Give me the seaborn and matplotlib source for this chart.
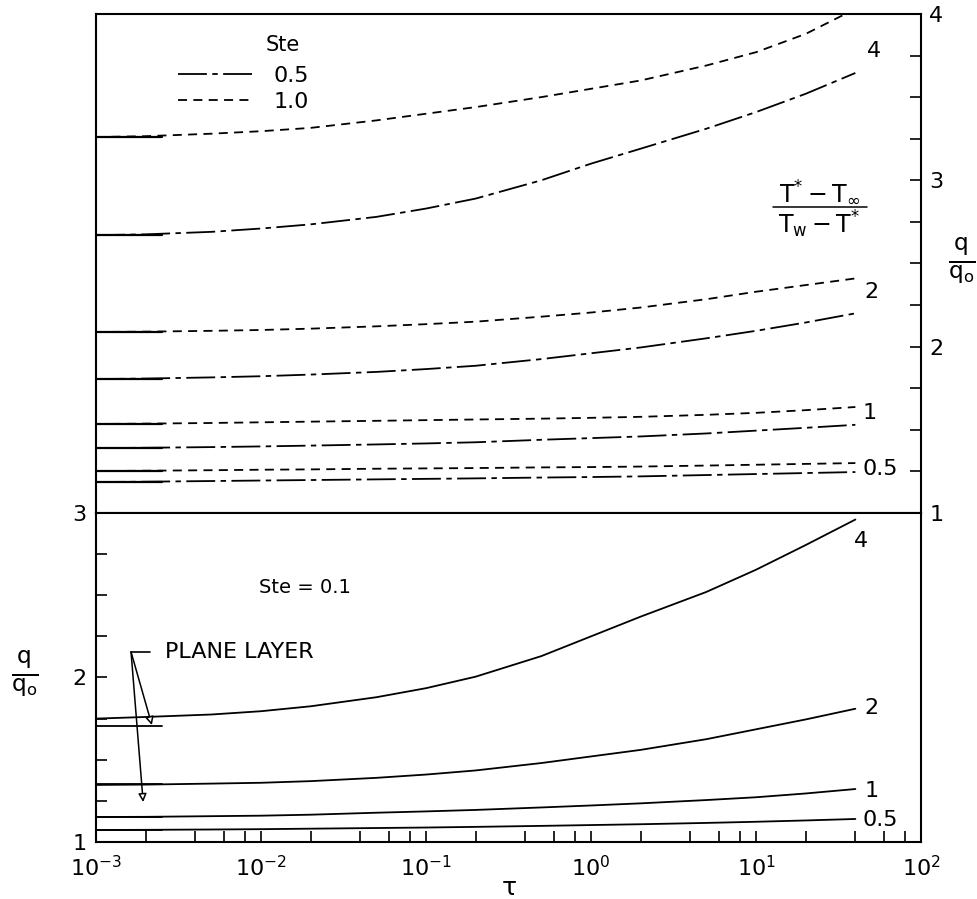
import pandas as pd
import seaborn as sns
import matplotlib.pyplot as plt
from matplotlib.lines import Line2D
from matplotlib.ticker import FixedLocator, MultipleLocator, LogLocator, NullFormatter

sns.set_style('ticks')
plt.rcParams['font.family'] = ['DejaVu Sans']
plt.rcParams['mathtext.default'] = 'regular'
for key in ['text.color', 'axes.labelcolor', 'xtick.color', 'ytick.color', 'axes.edgecolor']:
    plt.rcParams[key] = 'black'

tau = [0.001, 0.002, 0.005, 0.01, 0.02, 0.05, 0.1, 0.2, 0.5, 1, 2, 5, 10, 20, 40]
ratios = ['4', '2', '1', '0.5']

# upper panel, Ste = 0.5 (dash-dot)
ste05 = {
    '4':   [2.67, 2.675, 2.69, 2.71, 2.735, 2.78, 2.83, 2.89, 3.00, 3.10, 3.19, 3.31, 3.41, 3.52, 3.645],
    '2':   [1.805, 1.808, 1.815, 1.822, 1.832, 1.848, 1.865, 1.885, 1.925, 1.96, 1.995, 2.05, 2.095, 2.145, 2.20],
    '1':   [1.39, 1.392, 1.396, 1.40, 1.405, 1.412, 1.418, 1.425, 1.44, 1.45, 1.46, 1.478, 1.495, 1.512, 1.53],
    '0.5': [1.186, 1.188, 1.192, 1.195, 1.198, 1.202, 1.205, 1.208, 1.213, 1.216, 1.22, 1.228, 1.234, 1.24, 1.246],
}
# upper panel, Ste = 1.0 (dashed)
ste10 = {
    '4':   [3.26, 3.265, 3.28, 3.295, 3.315, 3.36, 3.40, 3.44, 3.50, 3.55, 3.60, 3.69, 3.77, 3.88, 4.03],
    '2':   [2.088, 2.09, 2.095, 2.10, 2.108, 2.122, 2.135, 2.15, 2.18, 2.205, 2.235, 2.285, 2.33, 2.37, 2.41],
    '1':   [1.535, 1.537, 1.541, 1.545, 1.549, 1.554, 1.558, 1.562, 1.567, 1.572, 1.578, 1.59, 1.602, 1.618, 1.637],
    '0.5': [1.252, 1.254, 1.257, 1.26, 1.262, 1.266, 1.268, 1.27, 1.274, 1.276, 1.279, 1.285, 1.29, 1.295, 1.30],
}
# lower panel, Ste = 0.1
ste01 = {
    '4':   [1.75, 1.76, 1.775, 1.795, 1.825, 1.88, 1.935, 2.005, 2.13, 2.25, 2.37, 2.52, 2.655, 2.805, 2.96],
    '2':   [1.347, 1.349, 1.355, 1.36, 1.37, 1.39, 1.41, 1.435, 1.48, 1.52, 1.56, 1.625, 1.685, 1.745, 1.81],
    '1':   [1.152, 1.153, 1.157, 1.16, 1.166, 1.178, 1.186, 1.195, 1.21, 1.222, 1.235, 1.255, 1.272, 1.295, 1.322],
    '0.5': [1.073, 1.074, 1.076, 1.078, 1.081, 1.085, 1.088, 1.092, 1.098, 1.103, 1.108, 1.116, 1.123, 1.131, 1.14],
}

# plane layer (short solid pieces at small tau)
plane_tau = [0.001, 0.0025]
plane_top = [3.26, 2.67, 2.088, 1.805, 1.535, 1.39, 1.252, 1.186]
plane_bot = [1.705, 1.35, 1.15, 1.073]

# curve label positions (tau, q)
top_labels = {'4': (52, 3.78), '2': (50, 2.33), '1': (49, 1.60), '0.5': (57, 1.264)}
bot_labels = {'4': (43, 2.83), '2': (50, 1.815), '1': (50, 1.31), '0.5': (57, 1.133)}

rows = []
for r in ratios:
    for t, v in zip(tau, ste05[r]):
        rows.append(dict(tau=t, q=v, ratio=r, ste='0.5'))
    for t, v in zip(tau, ste10[r]):
        rows.append(dict(tau=t, q=v, ratio=r + '_b', ste='1.0'))
top_df = pd.DataFrame(rows)

bot_df = pd.DataFrame([dict(tau=t, q=v, ratio=r) for r in ratios for t, v in zip(tau, ste01[r])])

plane_top_df = pd.DataFrame([dict(tau=t, q=v, k=i) for i, v in enumerate(plane_top) for t in plane_tau])
plane_bot_df = pd.DataFrame([dict(tau=t, q=v, k=i) for i, v in enumerate(plane_bot) for t in plane_tau])

fig = plt.figure(figsize=(9.77, 8.99), dpi=100)
ax_top = fig.add_axes([0.0983, 0.4294, 0.8444, 0.5551])
ax_bot = fig.add_axes([0.0983, 0.0634, 0.8444, 0.3660])

for ax in (ax_top, ax_bot):
    ax.set_xscale('log')
    ax.set_xlim(1e-3, 1e2)
    for s in ax.spines.values():
        s.set_linewidth(1.5)

dash_styles = {'0.5': (16, 3, 3, 3), '1.0': (5, 3.5)}
sns.lineplot(data=top_df, x='tau', y='q', units='ratio', style='ste', dashes=dash_styles,
             estimator=None, sort=False, color='black', lw=1.3, legend=False, ax=ax_top)
sns.lineplot(data=plane_top_df, x='tau', y='q', units='k', estimator=None,
             color='black', lw=1.6, legend=False, ax=ax_top)
sns.lineplot(data=bot_df, x='tau', y='q', units='ratio', estimator=None, sort=False,
             color='black', lw=1.3, legend=False, ax=ax_bot)
sns.lineplot(data=plane_bot_df, x='tau', y='q', units='k', estimator=None,
             color='black', lw=1.3, legend=False, ax=ax_bot)

# upper panel axes
ax_top.set_ylim(1, 4)
ax_top.yaxis.tick_right()
ax_top.yaxis.set_major_locator(FixedLocator([1, 2, 3, 4]))
ax_top.yaxis.set_minor_locator(MultipleLocator(0.25))
ax_top.set_yticklabels(['1', '2', '3', '4'])
ax_top.tick_params(axis='y', which='both', direction='in', length=8, width=1.2,
                   left=False, right=True, labelright=True, labelleft=False,
                   labelsize=16, pad=6)
ax_top.tick_params(axis='x', which='both', bottom=False, top=False, labelbottom=False)
ax_top.set_xlabel('')
ax_top.set_ylabel('')

# lower panel axes
ax_bot.set_ylim(1, 3)
ax_bot.yaxis.set_major_locator(FixedLocator([1, 2, 3]))
ax_bot.yaxis.set_minor_locator(MultipleLocator(0.25))
ax_bot.set_yticklabels(['1', '2', '3'])
ax_bot.tick_params(axis='y', which='both', direction='in', length=8, width=1.2,
                   left=True, right=False, labelsize=16, pad=7)
ax_bot.xaxis.set_major_locator(FixedLocator([1e-3, 1e-2, 1e-1, 1e0, 1e1, 1e2]))
ax_bot.set_xticklabels([r'$10^{-3}$', r'$10^{-2}$', r'$10^{-1}$', r'$10^{0}$', r'$10^{1}$', r'$10^{2}$'])
ax_bot.xaxis.set_minor_locator(LogLocator(base=10, subs=[2, 4, 6, 8]))
ax_bot.xaxis.set_minor_formatter(NullFormatter())
ax_bot.tick_params(axis='x', which='both', direction='in', length=8, width=1.2,
                   top=False, bottom=True, labelsize=16, pad=9)
ax_bot.set_xlabel(r'$\tau$', fontsize=18, labelpad=-3)
ax_bot.set_ylabel('')

# legend
handles = [Line2D([], [], color='black', lw=1.3, dashes=dash_styles['0.5']),
           Line2D([], [], color='black', lw=1.3, dashes=dash_styles['1.0'])]
ax_top.legend(handles, ['0.5', '1.0'], loc='upper left',
              bbox_to_anchor=(0.086, 0.918), frameon=False, fontsize=16,
              handlelength=3.4, handletextpad=0.9, labelspacing=0.25, borderpad=0)
ax_top.text(0.2267, 0.938, 'Ste', transform=ax_top.transAxes, fontsize=15,
            ha='center', va='center')

# curve labels
for r, (x, y) in top_labels.items():
    ax_top.text(x, y, r, fontsize=16, ha='center', va='center')
for r, (x, y) in bot_labels.items():
    ax_bot.text(x, y, r, fontsize=16, ha='center', va='center')

# temperature ratio label
ax_top.text(0.877, 0.643, r'$T^{*} - T_{\infty}$', transform=ax_top.transAxes,
            fontsize=17, ha='center', va='center')
ax_top.text(0.877, 0.578, r'$T_{w} - T^{*}$', transform=ax_top.transAxes,
            fontsize=17, ha='center', va='center')
ax_top.add_line(Line2D([0.82, 0.934], [0.614, 0.614], transform=ax_top.transAxes,
                       color='black', lw=1.1))

ax_top.text(1.05, 0.503, r'$\frac{q}{q_o}$', transform=ax_top.transAxes,
            fontsize=24, ha='center', va='center')
ax_bot.text(-0.086, 0.508, r'$\frac{q}{q_o}$', transform=ax_bot.transAxes,
            fontsize=24, ha='center', va='center')

ax_bot.text(0.0185, 2.544, 'Ste = 0.1', fontsize=14, ha='center', va='center')

# plane layer annotation
pl_start = (1.63e-3, 2.155)
ax_bot.plot([1.63e-3, 2.12e-3], [2.155, 2.155], color='black', lw=1.2)
ax_bot.text(2.62e-3, 2.155, 'PLANE LAYER', fontsize=16, ha='left', va='center')
for tip in [(2.18e-3, 1.711), (1.93e-3, 1.243)]:
    ax_bot.annotate('', xy=tip, xytext=pl_start,
                    arrowprops=dict(arrowstyle='-|>', color='black', lw=1.1,
                                    mutation_scale=12, shrinkA=0, shrinkB=0,
                                    fc='white'))

fig.savefig('out.png', dpi=100)
